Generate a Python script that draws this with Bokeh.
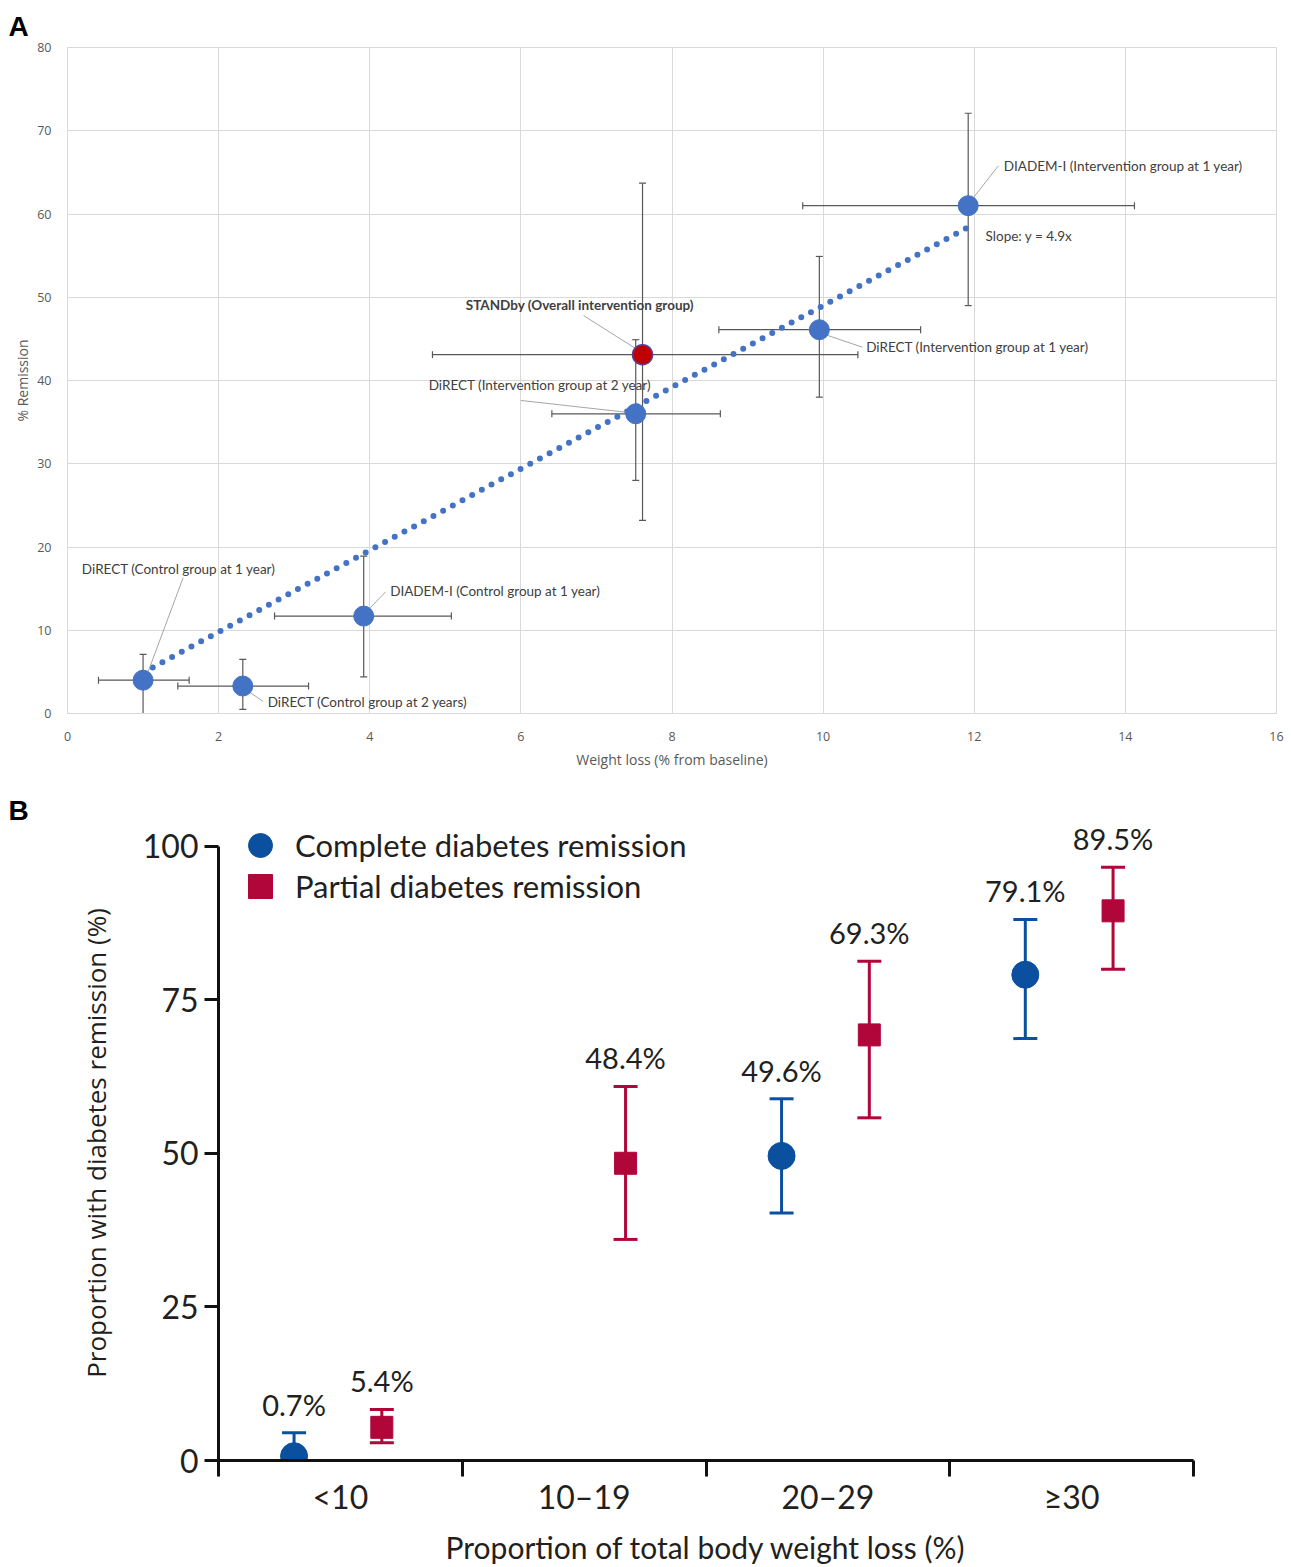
from bokeh.plotting import figure
from bokeh.models import (ColumnDataSource, Whisker, TeeHead, FixedTicker,
                          Legend, LegendItem, Range1d)
from bokeh.embed import file_html
from bokeh.resources import INLINE
from bokeh.core.properties import value

# ---------------- Panel A data ----------------
study_labels = ["DiRECT (Control group at 1 year)", "DiRECT (Control group at 2 years)",
                "DIADEM-I (Control group at 1 year)", "DiRECT (Intervention group at 2 year)",
                "DiRECT (Intervention group at 1 year)", "DIADEM-I (Intervention group at 1 year)"]
weight_loss = [1.0, 2.32, 3.92, 7.52, 9.95, 11.92]
weight_loss_lo = [0.41, 1.46, 2.74, 6.41, 8.62, 9.73]
weight_loss_hi = [1.61, 3.19, 5.08, 8.64, 11.29, 14.12]
remission = [4.0, 3.3, 11.7, 36.0, 46.1, 61.0]
remission_lo = [0.0, 0.5, 4.4, 28.0, 38.0, 49.0]
remission_hi = [7.1, 6.5, 18.9, 44.9, 54.9, 72.1]

standby_label = ["STANDby (Overall intervention group)"]
standby_wl = [7.61]
standby_wl_lo = [4.83]
standby_wl_hi = [10.46]
standby_rem = [43.1]
standby_rem_lo = [23.2]
standby_rem_hi = [63.7]

slope = 4.9
trend_x = [1.0, 11.9]
slope_text = "Slope: y = 4.9x"

x_ticks_a = [0, 2, 4, 6, 8, 10, 12, 14, 16]
y_ticks_a = [0, 10, 20, 30, 40, 50, 60, 70, 80]

# annotation placement (positions, not data)
lab_x = [0.19, 2.65, 4.27, 4.78, 10.57, 12.39]
lab_y = [17.4, 1.44, 14.7, 39.5, 44.0, 65.8]
lead_x0 = [1.53, 2.34, 4.21, 6.0, 10.0, 11.95]
lead_y0 = [16.3, 3.0, 14.6, 37.6, 45.6, 61.5]
lead_x1 = [1.05, 2.59, 3.94, 7.48, 10.52, 12.32]
lead_y1 = [4.6, 1.44, 12.1, 36.1, 44.0, 65.8]
standby_lab_xy = (6.78, 49.1)
standby_lead = ([6.83], [47.8], [7.56], [43.6])
slope_lab_xy = (12.15, 57.3)

# ---------------- Panel B data ----------------
categories = ["<10", "10–19", "20–29", "≥30"]
complete = [0.7, None, 49.6, 79.1]
complete_lo = [0.0, None, 40.3, 68.7]
complete_hi = [4.5, None, 58.9, 88.1]
partial = [5.4, 48.4, 69.3, 89.5]
partial_lo = [2.9, 36.0, 55.8, 80.0]
partial_hi = [8.3, 60.9, 81.3, 96.6]
y_ticks_b = [0, 25, 50, 75, 100]
legend_labels = ["Complete diabetes remission", "Partial diabetes remission"]

GRAY = "#595959"
BLUE_A = "#4472c4"

# ================= Panel A =================
pa = figure(width=1291, height=792, x_range=Range1d(0, 16), y_range=Range1d(0, 80),
            output_backend="svg", toolbar_location=None,
            min_border_left=67, min_border_right=15, min_border_top=47, min_border_bottom=79)
pa.title.text = "A"
pa.title.text_font = "Liberation Sans"
pa.title.text_font_size = "28px"
pa.title.text_font_style = "bold"
pa.title.text_color = "black"
pa.title.align = "left"
pa.title.offset = -59
pa.title.standoff = 12
pa.outline_line_color = "#d9d9d9"
pa.grid.grid_line_color = "#d9d9d9"
pa.xaxis.ticker = FixedTicker(ticks=x_ticks_a)
pa.yaxis.ticker = FixedTicker(ticks=y_ticks_a)
for ax in (pa.xaxis[0], pa.yaxis[0]):
    ax.axis_line_color = "#d9d9d9"
    ax.major_tick_line_color = None
    ax.minor_tick_line_color = None
    ax.major_label_text_font = "Open Sans"
    ax.major_label_text_font_size = "12.5px"
    ax.major_label_text_color = GRAY
    ax.axis_label_text_font = "Open Sans"
    ax.axis_label_text_font_size = "14px"
    ax.axis_label_text_font_style = "normal"
    ax.axis_label_text_color = GRAY
pa.xaxis.axis_label = "Weight loss (% from baseline)"
pa.yaxis.axis_label = "% Remission"
pa.xaxis.major_label_standoff = 12
pa.xaxis.axis_label_standoff = 6
pa.yaxis.major_label_standoff = 10
pa.yaxis.axis_label_standoff = 2

src_a = ColumnDataSource(dict(x=weight_loss, xlo=weight_loss_lo, xhi=weight_loss_hi,
                              y=remission, ylo=remission_lo, yhi=remission_hi))
src_s = ColumnDataSource(dict(x=standby_wl, xlo=standby_wl_lo, xhi=standby_wl_hi,
                              y=standby_rem, ylo=standby_rem_lo, yhi=standby_rem_hi))

for src in (src_a, src_s):
    wv = Whisker(source=src, base="x", upper="yhi", lower="ylo", dimension="height",
                 line_color=GRAY, line_width=1.2, level="underlay",
                 upper_head=TeeHead(size=7, line_color=GRAY, line_width=1.2),
                 lower_head=TeeHead(size=7, line_color=GRAY, line_width=1.2))
    wh = Whisker(source=src, base="y", upper="xhi", lower="xlo", dimension="width",
                 line_color=GRAY, line_width=1.2, level="underlay",
                 upper_head=TeeHead(size=7, line_color=GRAY, line_width=1.2),
                 lower_head=TeeHead(size=7, line_color=GRAY, line_width=1.2))
    pa.add_layout(wv)
    pa.add_layout(wh)

trend_y = [slope * v for v in trend_x]
pa.line(trend_x, trend_y, line_color=BLUE_A, line_width=6, line_dash="0 11", line_cap="round")

pa.segment(lead_x0, lead_y0, lead_x1, lead_y1, line_color="#a6a6a6", line_width=1)
pa.segment(*standby_lead, line_color="#a6a6a6", line_width=1)

pa.scatter("x", "y", source=src_a, size=20, fill_color=BLUE_A, line_color=BLUE_A)
pa.scatter("x", "y", source=src_s, size=20, fill_color="#c00000", line_color="#5b3f8f", line_width=1.5)

pa.text(lab_x, lab_y, text=study_labels, text_font=value("Lato"), text_font_size="13.5px",
        text_color="#404040", text_baseline="middle", text_align="left")
pa.text([standby_lab_xy[0]], [standby_lab_xy[1]], text=standby_label, text_font=value("Lato"),
        text_font_size="13.5px", text_font_style="bold", text_color="#404040",
        text_baseline="middle", text_align="center")
pa.text([slope_lab_xy[0]], [slope_lab_xy[1]], text=[slope_text], text_font=value("Lato"),
        text_font_size="13.5px", text_color="#404040", text_baseline="middle", text_align="left")

# ================= Panel B =================
BLUE_B = "#0b4f9f"
RED_B = "#b0063a"
TXT = "#231f20"
off_c, off_p = -0.19, 0.17

ci = [i for i, v in enumerate(complete) if v is not None]
src_c = ColumnDataSource(dict(x=[i + 0.5 + off_c for i in ci], y=[complete[i] for i in ci],
                              lo=[complete_lo[i] for i in ci], hi=[complete_hi[i] for i in ci],
                              ty=[complete_hi[i] + 1.8 for i in ci],
                              t=[f"{complete[i]}%" for i in ci]))
src_p = ColumnDataSource(dict(x=[i + 0.5 + off_p for i in range(len(partial))], y=partial,
                              lo=partial_lo, hi=partial_hi,
                              ty=[v + 1.8 for v in partial_hi],
                              t=[f"{v}%" for v in partial]))

pb = figure(width=1291, height=775, x_range=Range1d(0, 4), y_range=Range1d(0, 103.4),
            output_backend="svg", toolbar_location=None,
            min_border_left=218, min_border_right=98, min_border_top=0, min_border_bottom=104)
pb.title.text = "B"
pb.title.text_font = "Liberation Sans"
pb.title.text_font_size = "28px"
pb.title.text_font_style = "bold"
pb.title.text_color = "black"
pb.title.align = "left"
pb.title.offset = -210
pb.title.standoff = 0
pb.outline_line_color = None
pb.grid.grid_line_color = None

yb = pb.yaxis[0]
yb.ticker = FixedTicker(ticks=y_ticks_b)
yb.bounds = (0, 100)
yb.axis_line_width = 3
yb.axis_line_color = "#111111"
yb.major_tick_line_width = 3
yb.major_tick_line_color = "#111111"
yb.major_tick_out = 14
yb.major_tick_in = 0
yb.minor_tick_line_color = None
yb.major_label_text_font = "Lato"
yb.major_label_text_font_size = "32px"
yb.major_label_text_color = TXT
yb.major_label_standoff = 6
yb.axis_label = "Proportion with diabetes remission (%)"
yb.axis_label_text_font = "Open Sans"
yb.axis_label_text_font_size = "26px"
yb.axis_label_text_font_style = "normal"
yb.axis_label_text_color = TXT
yb.axis_label_standoff = 26

xb = pb.xaxis[0]
xb.ticker = FixedTicker(ticks=[0.5, 1.5, 2.5, 3.5], minor_ticks=[0, 1, 2, 3, 4])
xb.major_label_overrides = {0.5: categories[0], 1.5: categories[1], 2.5: categories[2], 3.5: categories[3]}
xb.axis_line_width = 3
xb.axis_line_color = "#111111"
xb.major_tick_out = 0
xb.major_tick_in = 0
xb.major_tick_line_color = None
xb.minor_tick_out = 16
xb.minor_tick_in = 0
xb.minor_tick_line_width = 3
xb.minor_tick_line_color = "#111111"
xb.major_label_text_font = "Lato"
xb.major_label_text_font_size = "32px"
xb.major_label_text_color = TXT
xb.major_label_standoff = 0
xb.axis_label = "Proportion of total body weight loss (%)"
xb.axis_label_text_font = "Lato"
xb.axis_label_text_font_size = "30px"
xb.axis_label_text_font_style = "normal"
xb.axis_label_text_color = TXT
xb.axis_label_standoff = 10

for src, col in ((src_c, BLUE_B), (src_p, RED_B)):
    pb.add_layout(Whisker(source=src, base="x", upper="hi", lower="lo", dimension="height",
                          line_color=col, line_width=3,
                          upper_head=TeeHead(size=24, line_color=col, line_width=3),
                          lower_head=TeeHead(size=24, line_color=col, line_width=3)))

rc = pb.scatter("x", "y", source=src_c, size=27, marker="circle", fill_color=BLUE_B, line_color=BLUE_B)
rp = pb.scatter("x", "y", source=src_p, size=22, marker="square", fill_color=RED_B, line_color=RED_B)

for src in (src_c, src_p):
    pb.text("x", "ty", text="t", source=src, text_font=value("Lato"), text_font_size="29px",
            text_color=TXT, text_align="center", text_baseline="bottom")

# two single-item legends so the rows can sit closer than the glyph box height
for lbl, rend, vy in ((legend_labels[0], rc, 585), (legend_labels[1], rp, 544)):
    lg = Legend(items=[LegendItem(label=lbl, renderers=[rend])],
                location=(12, vy), margin=0, padding=0, glyph_width=60, glyph_height=60,
                label_standoff=5, label_text_font="Lato",
                label_text_font_size="31px", label_text_color=TXT,
                border_line_color=None, background_fill_alpha=0)
    pb.add_layout(lg)

open("out.html", "w").write(file_html([pa, pb], INLINE))
